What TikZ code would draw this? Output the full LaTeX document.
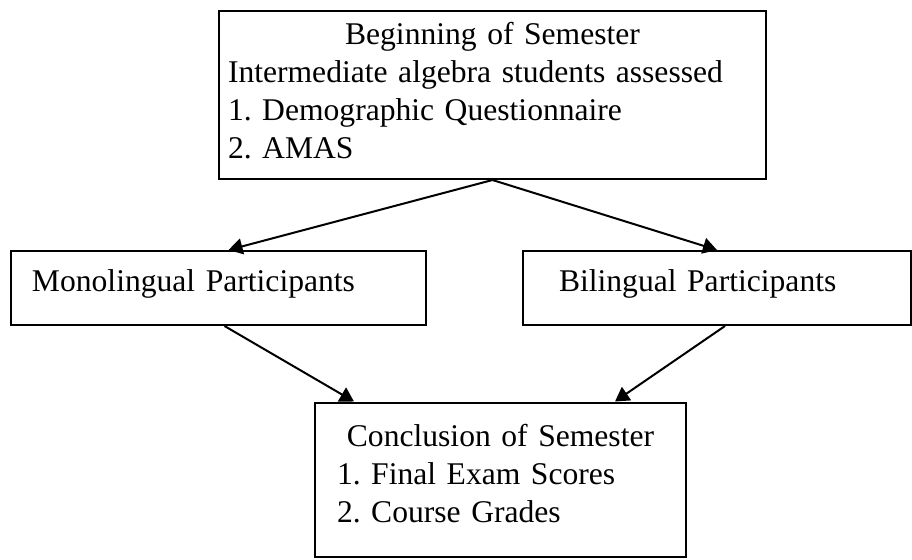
\documentclass[tikz,border=0pt]{standalone}
\usepackage{fontspec}
\setmainfont{Liberation Serif}
\usetikzlibrary{arrows.meta}
\frenchspacing

\tikzset{
  box/.style={draw, line width=1pt, rectangle, anchor=north west, align=left,
    inner ysep=0pt, font=\fontsize{15.8}{19}\selectfont},
  flow/.style={-{Triangle[length=7pt,width=8pt]}, line width=1pt},
}

\begin{document}
\begin{tikzpicture}[x=0.5pt, y=-0.5pt]
  \useasboundingbox (0,0) rectangle (912,559);

  % Boxes
  \node[box, text width=264.5pt, inner xsep=4.5pt, text height=16.5pt, text depth=67.5pt]
    (begin) at (218,10)
    {\makebox[\linewidth]{Beginning of Semester}\\Intermediate algebra students assessed\\1. Demographic Questionnaire\\2. AMAS};

  \node[box, text width=186.5pt, inner xsep=10.5pt, text height=20pt, text depth=17pt]
    (mono) at (10,250) {Monolingual Participants};
  \node[box, text width=158pt, inner xsep=18pt, text height=20pt, text depth=17pt]
    (bi) at (522,250) {Bilingual Participants};

  \node[box, text width=163.5pt, inner xsep=11pt, text height=21.75pt, text depth=55.5pt]
    (concl) at (314,401.5)
    {\makebox[\linewidth]{Conclusion of Semester}\\1. Final Exam Scores\\2. Course Grades};

  % Ends of the arrows
  \coordinate (monoin) at ([xshift=5pt]mono.north);
  \coordinate (monoout) at ([xshift=3pt]mono.south);
  \coordinate (biout) at ([xshift=4pt]bi.south);
  \coordinate (conclleft) at ([xshift=20pt]concl.north west);
  \coordinate (conclright) at ([xshift=-36pt]concl.north east);

  \draw[flow] (begin.south) -- (monoin);
  \draw[flow] (begin.south) -- (bi.north);
  \draw[flow] (monoout) -- (conclleft);
  \draw[flow] (biout) -- (conclright);
\end{tikzpicture}
\end{document}
